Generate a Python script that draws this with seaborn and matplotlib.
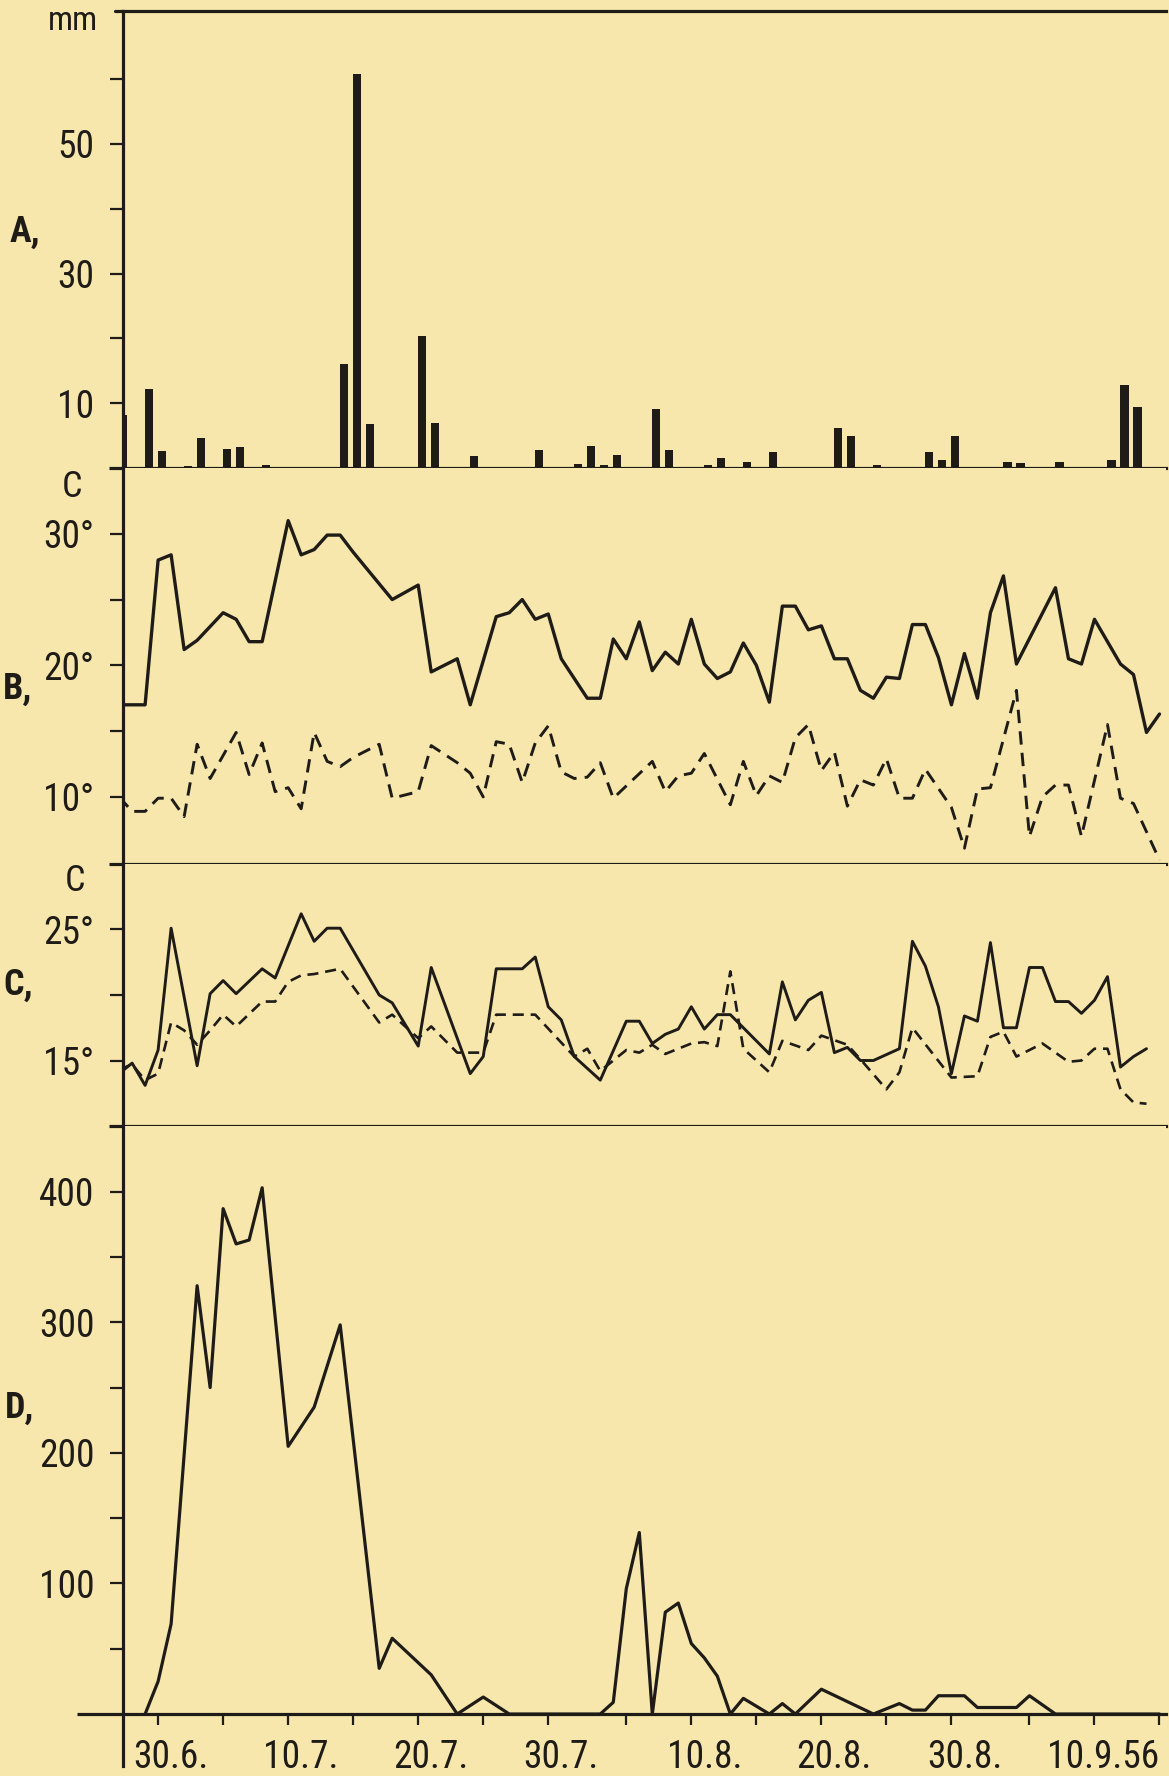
import matplotlib
matplotlib.use("Agg")
import matplotlib.pyplot as plt
import matplotlib.transforms as mtransforms
from matplotlib import font_manager as fm
import numpy as np
import pandas as pd
import seaborn as sns

# ---------------- data (day 0 = 30 June 1956) ----------------
rain_day = [-3, -1, 0, 2, 3, 5, 6, 8, 14, 15, 16, 20, 21, 24, 29, 32, 33,
            34, 35, 38, 39, 42, 43, 45, 47, 52, 53, 55, 59, 60, 61, 65, 66, 69,
            73, 74, 75]
rain_mm = [8.1, 12.2, 2.6, 0.3, 4.7, 3.0, 3.2, 0.5, 16.0, 60.8, 6.8, 20.3, 7.0,
           1.9, 2.8, 0.6, 3.4, 0.5, 2.0, 9.1, 2.8, 0.5, 1.6, 0.9, 2.4, 6.1, 5.0,
           0.5, 2.5, 1.3, 5.0, 0.9, 0.8, 0.9, 1.3, 12.8, 9.4]

bmax_day = [-3, -1, 0, 1, 2, 3, 5, 6, 7, 8, 10, 11, 12, 13, 14, 15, 18, 20, 21,
            23, 24, 26, 27, 28, 29, 30, 31, 33, 34, 35, 36, 37, 38, 39, 40, 41,
            42, 43, 44, 45, 46, 47, 48, 49, 50, 51, 52, 53, 54, 55, 56, 57, 58,
            59, 60, 61, 62, 63, 64, 65, 66, 69, 70, 71, 72, 73, 74, 75, 76, 77]
bmax_val = [17.0, 17.0, 28.0, 28.4, 21.2, 21.9, 24.0, 23.5, 21.8, 21.8, 31.0,
            28.4, 28.8, 29.9, 29.9, 28.6, 25.0, 26.1, 19.5, 20.5, 17.0, 23.7,
            24.0, 25.0, 23.5, 23.9, 20.5, 17.5, 17.5, 22.0, 20.5, 23.3, 19.6,
            21.0, 20.1, 23.5, 20.1, 19.0, 19.5, 21.7, 20.0, 17.2, 24.5, 24.5,
            22.7, 23.0, 20.5, 20.5, 18.1, 17.5, 19.1, 19.0, 23.1, 23.1, 20.6,
            17.0, 20.9, 17.5, 24.0, 26.8, 20.1, 25.9, 20.5, 20.1, 23.5, 21.8,
            20.1, 19.3, 14.9, 16.3]

bmin_day = [-3, -2, -1, 0, 1, 2, 3, 4, 6, 7, 8, 9, 10, 11, 12, 13, 14, 15, 17,
            18, 20, 21, 23, 24, 25, 26, 27, 28, 29, 30, 31, 32, 33, 34, 35, 38,
            39, 40, 41, 42, 44, 45, 46, 47, 48, 49, 50, 51, 52, 53, 54, 55, 56,
            57, 58, 59, 61, 62, 63, 64, 66, 67, 68, 69, 70, 71, 73, 74, 75, 77]
bmin_val = [10.0, 8.9, 8.9, 9.9, 9.9, 8.5, 14.0, 11.4, 14.9, 11.7, 14.1, 10.4,
            10.7, 9.1, 14.9, 12.7, 12.3, 13.0, 14.0, 9.9, 10.4, 13.9, 12.6, 11.8,
            10.0, 14.2, 14.0, 11.1, 14.1, 15.4, 11.9, 11.4, 11.5, 12.6, 9.9, 12.7,
            10.4, 11.6, 11.8, 13.3, 9.4, 12.7, 10.1, 11.6, 11.1, 14.5, 15.5, 12.0,
            13.4, 9.3, 11.3, 10.9, 12.9, 9.9, 9.9, 12.1, 9.2, 6.1, 10.6, 10.7,
            18.1, 7.0, 10.0, 10.9, 10.9, 7.0, 15.5, 9.9, 9.5, 5.2]

csol_day = [-3, -2, -1, 0, 1, 3, 4, 5, 6, 8, 9, 11, 12, 13, 14, 17, 18, 20, 21,
            24, 25, 26, 28, 29, 30, 31, 32, 34, 36, 37, 38, 39, 40, 41, 42, 43,
            44, 47, 48, 49, 50, 51, 52, 53, 54, 55, 57, 58, 59, 60, 61, 62, 63,
            64, 65, 66, 67, 68, 69, 70, 71, 72, 73, 74, 75, 76]
csol_val = [14.0, 14.8, 13.1, 15.8, 25.1, 14.6, 20.1, 21.1, 20.1, 22.0, 21.3,
            26.2, 24.1, 25.1, 25.1, 20.0, 19.4, 16.1, 22.1, 14.0, 15.3, 22.0,
            22.0, 22.9, 19.1, 18.1, 15.3, 13.5, 18.0, 18.0, 16.3, 17.0, 17.4,
            19.1, 17.4, 18.5, 18.5, 15.5, 21.0, 18.1, 19.6, 20.2, 15.6, 16.0,
            15.0, 15.0, 15.9, 24.1, 22.2, 19.1, 14.0, 18.4, 18.0, 24.0, 17.5,
            17.5, 22.1, 22.1, 19.5, 19.5, 18.6, 19.6, 21.4, 14.5, 15.3, 15.9]

cdash_day = [-3, -2, -1, 0, 1, 2, 3, 4, 5, 6, 8, 9, 10, 11, 12, 14, 17, 18, 20,
             21, 23, 25, 26, 29, 32, 33, 34, 36, 37, 38, 39, 41, 42, 43, 44, 45,
             47, 48, 50, 51, 53, 54, 56, 57, 58, 61, 63, 64, 65, 66, 68, 70, 71,
             72, 73, 74, 75, 76]
cdash_val = [14.3, 14.7, 13.5, 14.0, 17.9, 17.3, 16.2, 17.3, 18.5, 17.6, 19.5,
             19.5, 21.0, 21.5, 21.6, 22.0, 17.9, 18.5, 16.7, 17.6, 15.6, 15.6,
             18.5, 18.5, 15.3, 15.9, 14.2, 15.8, 15.6, 16.2, 15.5, 16.3, 16.4,
             16.1, 21.8, 15.9, 14.1, 16.5, 15.8, 16.9, 16.2, 15.1, 12.8, 14.1,
             17.5, 13.7, 13.8, 16.8, 17.2, 15.3, 16.3, 14.9, 15.0, 15.9, 15.9,
             12.8, 11.8, 11.7]

d_day = [-1, 0, 1, 3, 4, 5, 6, 7, 8, 10, 12, 14, 17, 18, 21, 23, 25, 27, 34, 35,
         36, 37, 38, 39, 40, 41, 42, 43, 44, 45, 47, 48, 49, 51, 55, 57, 58, 59,
         60, 62, 63, 66, 67, 69, 77]
d_val = [0, 25, 69, 328, 250, 387, 360, 363, 403, 205, 235, 298, 35, 58, 30, 0,
         13, 0, 0, 9, 96, 139, 0, 78, 85, 54, 43, 29, 0, 12, 0, 8, 0, 19, 0, 8,
         3, 3, 14, 14, 5, 5, 14, 0, 0]

tick_days = [0, 5, 10, 15, 20, 25, 30, 36, 41, 46, 51, 56, 61, 67, 72, 77]
tick_text = ["30.6.", "", "10.7.", "", "20.7.", "", "30.7.", "", "10.8.", "",
             "20.8.", "", "30.8.", "", "10.9.56", ""]

a_ticks = [10, 20, 30, 40, 50, 60]
a_text = ["10", "", "30", "", "50", ""]
b_ticks = [10, 15, 20, 25, 30]
b_text = ["10°", "", "20°", "", "30°"]
c_ticks = [15, 20, 25]
c_text = ["15°", "", "25°"]
d_ticks = [50, 100, 150, 200, 250, 300, 350, 400]
d_text = ["", "100", "", "200", "", "300", "", "400"]

# ---------------- style ----------------
PAPER = "#f7e7ad"
INK = "#1f1c18"
FW, FH = 1169, 1776
X0, X1 = 123, 1166
XMIN, XMAX = -2.7, 77.5

sns.set_theme(style="white")
plt.rcParams.update({
    "figure.facecolor": PAPER,
    "axes.facecolor": PAPER,
    "savefig.facecolor": PAPER,
    "text.color": INK,
    "axes.edgecolor": INK,
    "xtick.color": INK,
    "ytick.color": INK,
})

# pick a narrow sans face if one is installed (the original lettering is narrow)
_fonts = fm.fontManager.ttflist
_names = {f.name for f in _fonts}
FAMILY, STRETCH = "DejaVu Sans", "normal"
for pref in ["Liberation Sans Narrow", "Arial Narrow", "Nimbus Sans Narrow",
             "DejaVu Sans Condensed", "Roboto Condensed", "Open Sans Condensed",
             "Noto Sans Condensed"]:
    if pref in _names:
        FAMILY = pref
        break
else:
    for f in _fonts:
        st = str(f.stretch)
        narrow = st in ("condensed", "semi-condensed", "extra-condensed") or \
            (st.isdigit() and int(st) < 500)
        if narrow and f.name in ("DejaVu Sans", "Noto Sans", "Open Sans",
                                 "Roboto", "Lato", "Inter", "Liberation Sans"):
            FAMILY, STRETCH = f.name, st
            break
NARROW = not (FAMILY == "DejaVu Sans" and STRETCH == "normal")
plt.rcParams["font.family"] = [FAMILY, "DejaVu Sans"]
plt.rcParams["font.stretch"] = STRETCH
TICK_FS = 27 if NARROW else 22
LET_FS = 26 if NARROW else 23

fig = plt.figure(figsize=(FW / 100, FH / 100), dpi=100)


def add_panel(top, bot):
    ax = fig.add_axes([X0 / FW, 1 - bot / FH, (X1 - X0) / FW, (bot - top) / FH])
    ax.set_facecolor(PAPER)
    for s in ax.spines.values():
        s.set_color(INK)
        s.set_linewidth(2.3)
    ax.spines["right"].set_visible(False)
    ax.tick_params(axis="y", direction="out", length=9.5, width=1.6,
                   colors=INK, labelsize=TICK_FS, pad=11, left=True)
    ax.tick_params(axis="x", bottom=False, labelbottom=False)
    return ax


def draw_line(ax, days, vals, lw, ls):
    df = pd.DataFrame({"day": days, "val": vals})
    sns.lineplot(data=df, x="day", y="val", ax=ax, color=INK, linewidth=lw,
                 linestyle=ls, estimator=None, sort=False, legend=False,
                 zorder=3)
    ax.set(xlabel="", ylabel="")


def sep_ext(ax, ext=0.0134):
    ax.plot([-ext, 0], [0, 0], transform=ax.transAxes, color=INK, lw=2.3,
            clip_on=False, solid_capstyle="butt")


axA = add_panel(11, 468)
axB = add_panel(468, 864)
axC = add_panel(864, 1126)
axD = add_panel(1126, 1766)

# ---- A: precipitation ----
axA.bar(rain_day, rain_mm, width=0.62, align="edge", color=INK, linewidth=0,
        zorder=3)
axA.set_xlim(XMIN, XMAX)
axA.set_ylim(0, 70.5)
axA.set_yticks(a_ticks, a_text)
sep_ext(axA)
axA.plot([-0.008, 0], [1, 1], transform=axA.transAxes, color=INK, lw=2.3,
         clip_on=False)

# ---- B: air temperature max / min ----
draw_line(axB, bmax_day, bmax_val, 2.4, "-")
draw_line(axB, bmin_day, bmin_val, 2.1, (0, (4.6, 2.8)))
axB.set_xlim(XMIN, XMAX)
axB.set_ylim(4.9, 35.0)
axB.set_yticks(b_ticks, b_text)
axB.spines["top"].set_visible(False)
sep_ext(axB)

# ---- C: temperatures ----
draw_line(axC, csol_day, csol_val, 2.1, "-")
draw_line(axC, cdash_day, cdash_val, 1.9, (0, (4.2, 2.6)))
axC.set_xlim(XMIN, XMAX)
axC.set_ylim(10, 30)
axC.set_yticks(c_ticks, c_text)
axC.spines["top"].set_visible(False)
sep_ext(axC)

# ---- D: counts ----
draw_line(axD, d_day, d_val, 2.3, "-")
axD.set_xlim(XMIN, XMAX)
axD.set_ylim(-39.8, 450.3)
axD.set_yticks(d_ticks, d_text)
axD.spines["top"].set_visible(False)
axD.spines["bottom"].set_position(("data", 0))
axD.tick_params(axis="x", bottom=True, labelbottom=True, direction="out",
                length=8, width=1.6, colors=INK, labelsize=TICK_FS, pad=10)
axD.set_xticks(tick_days, tick_text)
trans = mtransforms.blended_transform_factory(axD.transAxes, axD.transData)
axD.plot([-0.044, 0], [0, 0], transform=trans, color=INK, lw=2.3,
         clip_on=False, solid_capstyle="butt")
for lbl in axD.get_xticklabels():
    if lbl.get_text() == "10.9.56":
        lbl.set_horizontalalignment("right")
        dx = 65
    else:
        dx = 13
    lbl.set_transform(lbl.get_transform() +
                      mtransforms.ScaledTranslation(dx / 100, 0,
                                                    fig.dpi_scale_trans))

# ---- texts ----
def ftext(x, y, s, size, weight="normal"):
    fig.text(x / FW, 1 - y / FH, s, ha="center", va="center", fontsize=size,
             color=INK, fontweight=weight)

ftext(73, 21, "mm", LET_FS - 2)
ftext(72, 487, "C", LET_FS)
ftext(75, 881, "C", LET_FS)
ftext(25, 232, "A,", LET_FS, "bold")
ftext(18, 689, "B,", LET_FS, "bold")
ftext(18, 985, "C,", LET_FS, "bold")
ftext(20, 1408, "D,", LET_FS, "bold")

fig.savefig("out.png", dpi=100, facecolor=PAPER)
